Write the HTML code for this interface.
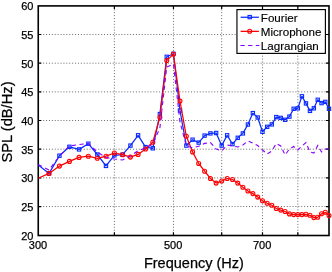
<!DOCTYPE html><html><head><meta charset="utf-8"><style>html,body{margin:0;padding:0;background:#fff;}body{width:332px;height:272px;overflow:hidden;}svg{display:block;}text{font-family:"Liberation Sans",sans-serif;fill:#000;stroke:#000;stroke-width:0.25px;}svg{will-change:transform;}</style></head><body>
<svg width="332" height="272" viewBox="0 0 332 272">
<defs><clipPath id="c"><rect x="38.25" y="5.85" width="290.75" height="229.35"/></clipPath></defs>
<path d="M38.25 206.53H329.00M38.25 177.86H329.00M38.25 149.19H329.00M38.25 120.52H329.00M38.25 91.86H329.00M38.25 63.19H329.00M38.25 34.52H329.00" stroke="#6a6a6a" stroke-width="1" stroke-dasharray="1 1.9" stroke-dashoffset="0.9" fill="none"/>
<path d="M114.39 5.90V235.50M173.44 5.90V235.50M221.69 5.90V235.50M262.49 5.90V235.50M297.83 5.90V235.50" stroke="#6a6a6a" stroke-width="1" stroke-dasharray="1 1.9" stroke-dashoffset="2.4" fill="none"/>
<path d="M38.25 206.53h3M329.00 206.53h-3M38.25 177.86h3M329.00 177.86h-3M38.25 149.19h3M329.00 149.19h-3M38.25 120.52h3M329.00 120.52h-3M38.25 91.86h3M329.00 91.86h-3M38.25 63.19h3M329.00 63.19h-3M38.25 34.52h3M329.00 34.52h-3M114.39 235.50v-3.2M114.39 5.90v3M173.44 235.50v-3.2M173.44 5.90v3M221.69 235.50v-3.2M221.69 5.90v3M262.49 235.50v-3.2M262.49 5.90v3M297.83 235.50v-3.2M297.83 5.90v3" stroke="#000" stroke-width="1.2" fill="none"/>
<rect x="38.25" y="5.9" width="290.75" height="229.60" fill="none" stroke="#000" stroke-width="1.6"/>
<polyline clip-path="url(#c)" points="38.25,164.90 49.05,173.40 59.43,155.70 69.42,146.80 79.05,149.40 88.33,143.70 97.31,154.50 105.98,165.90 114.39,155.30 122.53,154.60 130.43,145.60 138.10,135.30 145.56,147.10 152.81,148.30 159.87,114.10 166.74,56.80 173.44,53.80 179.98,110.50 186.35,145.60 192.58,139.70 198.67,142.60 204.61,135.60 210.43,133.40 216.12,133.00 221.69,145.60 227.15,135.30 232.50,144.10 237.74,137.80 242.88,133.40 247.92,124.50 252.86,113.10 257.72,117.50 262.49,131.80 267.17,126.80 271.78,124.40 276.30,117.10 280.75,117.90 285.12,119.80 289.43,116.60 293.66,108.80 297.83,108.30 301.93,96.30 305.97,103.40 309.95,110.90 313.87,108.30 317.74,99.80 321.54,103.10 325.30,101.90 329.00,108.80" fill="none" stroke="#0a2aff" stroke-width="1.25" stroke-linejoin="round"/>
<rect x="47.40" y="171.75" width="3.3" height="3.3" fill="none" stroke="#0a2aff" stroke-width="1.1"/>
<rect x="57.78" y="154.05" width="3.3" height="3.3" fill="none" stroke="#0a2aff" stroke-width="1.1"/>
<rect x="67.77" y="145.15" width="3.3" height="3.3" fill="none" stroke="#0a2aff" stroke-width="1.1"/>
<rect x="77.40" y="147.75" width="3.3" height="3.3" fill="none" stroke="#0a2aff" stroke-width="1.1"/>
<rect x="86.68" y="142.05" width="3.3" height="3.3" fill="none" stroke="#0a2aff" stroke-width="1.1"/>
<rect x="95.66" y="152.85" width="3.3" height="3.3" fill="none" stroke="#0a2aff" stroke-width="1.1"/>
<rect x="104.33" y="164.25" width="3.3" height="3.3" fill="none" stroke="#0a2aff" stroke-width="1.1"/>
<rect x="112.74" y="153.65" width="3.3" height="3.3" fill="none" stroke="#0a2aff" stroke-width="1.1"/>
<rect x="120.88" y="152.95" width="3.3" height="3.3" fill="none" stroke="#0a2aff" stroke-width="1.1"/>
<rect x="128.78" y="143.95" width="3.3" height="3.3" fill="none" stroke="#0a2aff" stroke-width="1.1"/>
<rect x="136.45" y="133.65" width="3.3" height="3.3" fill="none" stroke="#0a2aff" stroke-width="1.1"/>
<rect x="143.91" y="145.45" width="3.3" height="3.3" fill="none" stroke="#0a2aff" stroke-width="1.1"/>
<rect x="151.16" y="146.65" width="3.3" height="3.3" fill="none" stroke="#0a2aff" stroke-width="1.1"/>
<rect x="158.22" y="112.45" width="3.3" height="3.3" fill="none" stroke="#0a2aff" stroke-width="1.1"/>
<rect x="165.09" y="55.15" width="3.3" height="3.3" fill="none" stroke="#0a2aff" stroke-width="1.1"/>
<rect x="171.79" y="52.15" width="3.3" height="3.3" fill="none" stroke="#0a2aff" stroke-width="1.1"/>
<rect x="178.33" y="108.85" width="3.3" height="3.3" fill="none" stroke="#0a2aff" stroke-width="1.1"/>
<rect x="184.70" y="143.95" width="3.3" height="3.3" fill="none" stroke="#0a2aff" stroke-width="1.1"/>
<rect x="190.93" y="138.05" width="3.3" height="3.3" fill="none" stroke="#0a2aff" stroke-width="1.1"/>
<rect x="197.02" y="140.95" width="3.3" height="3.3" fill="none" stroke="#0a2aff" stroke-width="1.1"/>
<rect x="202.96" y="133.95" width="3.3" height="3.3" fill="none" stroke="#0a2aff" stroke-width="1.1"/>
<rect x="208.78" y="131.75" width="3.3" height="3.3" fill="none" stroke="#0a2aff" stroke-width="1.1"/>
<rect x="214.47" y="131.35" width="3.3" height="3.3" fill="none" stroke="#0a2aff" stroke-width="1.1"/>
<rect x="220.04" y="143.95" width="3.3" height="3.3" fill="none" stroke="#0a2aff" stroke-width="1.1"/>
<rect x="225.50" y="133.65" width="3.3" height="3.3" fill="none" stroke="#0a2aff" stroke-width="1.1"/>
<rect x="230.85" y="142.45" width="3.3" height="3.3" fill="none" stroke="#0a2aff" stroke-width="1.1"/>
<rect x="236.09" y="136.15" width="3.3" height="3.3" fill="none" stroke="#0a2aff" stroke-width="1.1"/>
<rect x="241.23" y="131.75" width="3.3" height="3.3" fill="none" stroke="#0a2aff" stroke-width="1.1"/>
<rect x="246.27" y="122.85" width="3.3" height="3.3" fill="none" stroke="#0a2aff" stroke-width="1.1"/>
<rect x="251.21" y="111.45" width="3.3" height="3.3" fill="none" stroke="#0a2aff" stroke-width="1.1"/>
<rect x="256.07" y="115.85" width="3.3" height="3.3" fill="none" stroke="#0a2aff" stroke-width="1.1"/>
<rect x="260.84" y="130.15" width="3.3" height="3.3" fill="none" stroke="#0a2aff" stroke-width="1.1"/>
<rect x="265.52" y="125.15" width="3.3" height="3.3" fill="none" stroke="#0a2aff" stroke-width="1.1"/>
<rect x="270.13" y="122.75" width="3.3" height="3.3" fill="none" stroke="#0a2aff" stroke-width="1.1"/>
<rect x="274.65" y="115.45" width="3.3" height="3.3" fill="none" stroke="#0a2aff" stroke-width="1.1"/>
<rect x="279.10" y="116.25" width="3.3" height="3.3" fill="none" stroke="#0a2aff" stroke-width="1.1"/>
<rect x="283.47" y="118.15" width="3.3" height="3.3" fill="none" stroke="#0a2aff" stroke-width="1.1"/>
<rect x="287.78" y="114.95" width="3.3" height="3.3" fill="none" stroke="#0a2aff" stroke-width="1.1"/>
<rect x="292.01" y="107.15" width="3.3" height="3.3" fill="none" stroke="#0a2aff" stroke-width="1.1"/>
<rect x="296.18" y="106.65" width="3.3" height="3.3" fill="none" stroke="#0a2aff" stroke-width="1.1"/>
<rect x="300.28" y="94.65" width="3.3" height="3.3" fill="none" stroke="#0a2aff" stroke-width="1.1"/>
<rect x="304.32" y="101.75" width="3.3" height="3.3" fill="none" stroke="#0a2aff" stroke-width="1.1"/>
<rect x="308.30" y="109.25" width="3.3" height="3.3" fill="none" stroke="#0a2aff" stroke-width="1.1"/>
<rect x="312.22" y="106.65" width="3.3" height="3.3" fill="none" stroke="#0a2aff" stroke-width="1.1"/>
<rect x="316.09" y="98.15" width="3.3" height="3.3" fill="none" stroke="#0a2aff" stroke-width="1.1"/>
<rect x="319.89" y="101.45" width="3.3" height="3.3" fill="none" stroke="#0a2aff" stroke-width="1.1"/>
<rect x="323.65" y="100.25" width="3.3" height="3.3" fill="none" stroke="#0a2aff" stroke-width="1.1"/>
<rect x="327.35" y="107.15" width="3.3" height="3.3" fill="none" stroke="#0a2aff" stroke-width="1.1"/>
<polyline clip-path="url(#c)" points="38.25,178.30 49.05,173.40 59.43,166.10 69.42,161.40 79.05,157.40 88.33,156.20 97.31,158.30 105.98,156.20 114.39,153.00 122.53,154.70 130.43,157.10 138.10,154.40 145.56,149.00 152.81,142.20 159.87,117.30 166.74,60.60 173.44,54.10 179.98,101.10 186.35,136.30 192.58,151.90 198.67,163.50 204.61,171.20 210.43,178.50 216.12,183.10 221.69,181.00 227.15,178.50 232.50,179.50 237.74,183.10 242.88,187.20 247.92,191.00 252.86,193.60 257.72,197.10 262.49,200.70 267.17,203.20 271.78,205.20 276.30,208.50 280.75,210.10 285.12,211.50 289.43,213.90 293.66,214.60 297.83,214.60 301.93,214.60 305.97,214.30 309.95,215.30 313.87,217.60 317.74,217.30 321.54,213.80 325.30,212.30 329.00,215.60" fill="none" stroke="#ff0000" stroke-width="1.25" stroke-linejoin="round"/>
<circle cx="49.05" cy="173.40" r="2.0" fill="none" stroke="#ff0000" stroke-width="1.1"/>
<circle cx="59.43" cy="166.10" r="2.0" fill="none" stroke="#ff0000" stroke-width="1.1"/>
<circle cx="69.42" cy="161.40" r="2.0" fill="none" stroke="#ff0000" stroke-width="1.1"/>
<circle cx="79.05" cy="157.40" r="2.0" fill="none" stroke="#ff0000" stroke-width="1.1"/>
<circle cx="88.33" cy="156.20" r="2.0" fill="none" stroke="#ff0000" stroke-width="1.1"/>
<circle cx="97.31" cy="158.30" r="2.0" fill="none" stroke="#ff0000" stroke-width="1.1"/>
<circle cx="105.98" cy="156.20" r="2.0" fill="none" stroke="#ff0000" stroke-width="1.1"/>
<circle cx="114.39" cy="153.00" r="2.0" fill="none" stroke="#ff0000" stroke-width="1.1"/>
<circle cx="122.53" cy="154.70" r="2.0" fill="none" stroke="#ff0000" stroke-width="1.1"/>
<circle cx="130.43" cy="157.10" r="2.0" fill="none" stroke="#ff0000" stroke-width="1.1"/>
<circle cx="138.10" cy="154.40" r="2.0" fill="none" stroke="#ff0000" stroke-width="1.1"/>
<circle cx="145.56" cy="149.00" r="2.0" fill="none" stroke="#ff0000" stroke-width="1.1"/>
<circle cx="152.81" cy="142.20" r="2.0" fill="none" stroke="#ff0000" stroke-width="1.1"/>
<circle cx="159.87" cy="117.30" r="2.0" fill="none" stroke="#ff0000" stroke-width="1.1"/>
<circle cx="166.74" cy="60.60" r="2.0" fill="none" stroke="#ff0000" stroke-width="1.1"/>
<circle cx="173.44" cy="54.10" r="2.0" fill="none" stroke="#ff0000" stroke-width="1.1"/>
<circle cx="179.98" cy="101.10" r="2.0" fill="none" stroke="#ff0000" stroke-width="1.1"/>
<circle cx="186.35" cy="136.30" r="2.0" fill="none" stroke="#ff0000" stroke-width="1.1"/>
<circle cx="192.58" cy="151.90" r="2.0" fill="none" stroke="#ff0000" stroke-width="1.1"/>
<circle cx="198.67" cy="163.50" r="2.0" fill="none" stroke="#ff0000" stroke-width="1.1"/>
<circle cx="204.61" cy="171.20" r="2.0" fill="none" stroke="#ff0000" stroke-width="1.1"/>
<circle cx="210.43" cy="178.50" r="2.0" fill="none" stroke="#ff0000" stroke-width="1.1"/>
<circle cx="216.12" cy="183.10" r="2.0" fill="none" stroke="#ff0000" stroke-width="1.1"/>
<circle cx="221.69" cy="181.00" r="2.0" fill="none" stroke="#ff0000" stroke-width="1.1"/>
<circle cx="227.15" cy="178.50" r="2.0" fill="none" stroke="#ff0000" stroke-width="1.1"/>
<circle cx="232.50" cy="179.50" r="2.0" fill="none" stroke="#ff0000" stroke-width="1.1"/>
<circle cx="237.74" cy="183.10" r="2.0" fill="none" stroke="#ff0000" stroke-width="1.1"/>
<circle cx="242.88" cy="187.20" r="2.0" fill="none" stroke="#ff0000" stroke-width="1.1"/>
<circle cx="247.92" cy="191.00" r="2.0" fill="none" stroke="#ff0000" stroke-width="1.1"/>
<circle cx="252.86" cy="193.60" r="2.0" fill="none" stroke="#ff0000" stroke-width="1.1"/>
<circle cx="257.72" cy="197.10" r="2.0" fill="none" stroke="#ff0000" stroke-width="1.1"/>
<circle cx="262.49" cy="200.70" r="2.0" fill="none" stroke="#ff0000" stroke-width="1.1"/>
<circle cx="267.17" cy="203.20" r="2.0" fill="none" stroke="#ff0000" stroke-width="1.1"/>
<circle cx="271.78" cy="205.20" r="2.0" fill="none" stroke="#ff0000" stroke-width="1.1"/>
<circle cx="276.30" cy="208.50" r="2.0" fill="none" stroke="#ff0000" stroke-width="1.1"/>
<circle cx="280.75" cy="210.10" r="2.0" fill="none" stroke="#ff0000" stroke-width="1.1"/>
<circle cx="285.12" cy="211.50" r="2.0" fill="none" stroke="#ff0000" stroke-width="1.1"/>
<circle cx="289.43" cy="213.90" r="2.0" fill="none" stroke="#ff0000" stroke-width="1.1"/>
<circle cx="293.66" cy="214.60" r="2.0" fill="none" stroke="#ff0000" stroke-width="1.1"/>
<circle cx="297.83" cy="214.60" r="2.0" fill="none" stroke="#ff0000" stroke-width="1.1"/>
<circle cx="301.93" cy="214.60" r="2.0" fill="none" stroke="#ff0000" stroke-width="1.1"/>
<circle cx="305.97" cy="214.30" r="2.0" fill="none" stroke="#ff0000" stroke-width="1.1"/>
<circle cx="309.95" cy="215.30" r="2.0" fill="none" stroke="#ff0000" stroke-width="1.1"/>
<circle cx="313.87" cy="217.60" r="2.0" fill="none" stroke="#ff0000" stroke-width="1.1"/>
<circle cx="317.74" cy="217.30" r="2.0" fill="none" stroke="#ff0000" stroke-width="1.1"/>
<circle cx="321.54" cy="213.80" r="2.0" fill="none" stroke="#ff0000" stroke-width="1.1"/>
<circle cx="325.30" cy="212.30" r="2.0" fill="none" stroke="#ff0000" stroke-width="1.1"/>
<circle cx="329.00" cy="215.60" r="2.0" fill="none" stroke="#ff0000" stroke-width="1.1"/>
<polyline clip-path="url(#c)" points="38.25,164.40 49.05,170.00 59.43,156.00 69.42,146.00 79.05,144.60 88.33,143.40 97.31,152.00 105.98,157.50 114.39,159.00 122.53,160.00 130.43,155.90 138.10,150.70 145.56,147.80 152.81,144.00 159.87,128.00 166.74,67.00 173.44,64.00 179.98,122.00 186.35,146.00 192.58,147.80 198.67,146.30 204.61,143.40 210.43,142.60 216.12,149.00 221.69,151.00 227.15,145.10 232.50,145.90 237.74,147.00 242.88,145.00 247.92,141.00 252.86,143.00 257.72,145.50 262.49,150.00 267.17,154.00 271.78,151.00 276.30,143.50 280.75,146.00 285.12,155.00 289.43,149.00 293.66,146.50 297.83,150.00 301.93,146.00 305.97,142.50 309.95,152.00 313.87,153.00 317.74,145.50 321.54,152.00 325.30,149.00 329.00,149.00" fill="none" stroke="#8800ff" stroke-width="1.1" stroke-dasharray="4.3 3.4"/>
<text x="33.4" y="239.70" font-size="11" text-anchor="end">20</text>
<text x="33.4" y="211.03" font-size="11" text-anchor="end">25</text>
<text x="33.4" y="182.36" font-size="11" text-anchor="end">30</text>
<text x="33.4" y="153.69" font-size="11" text-anchor="end">35</text>
<text x="33.4" y="125.02" font-size="11" text-anchor="end">40</text>
<text x="33.4" y="96.36" font-size="11" text-anchor="end">45</text>
<text x="33.4" y="67.69" font-size="11" text-anchor="end">50</text>
<text x="33.4" y="39.02" font-size="11" text-anchor="end">55</text>
<text x="33.4" y="10.35" font-size="11" text-anchor="end">60</text>
<text x="37.95" y="248.5" font-size="11" text-anchor="middle">300</text>
<text x="173.14" y="248.5" font-size="11" text-anchor="middle">500</text>
<text x="262.19" y="248.5" font-size="11" text-anchor="middle">700</text>
<text x="193.9" y="268.4" font-size="14.5" text-anchor="middle">Frequency (Hz)</text>
<text transform="translate(12.4,122.0) rotate(-90)" font-size="14.7" text-anchor="middle">SPL (dB/Hz)</text>
<rect x="236.95" y="9.6" width="88.45" height="43.8" fill="#fff" stroke="#000" stroke-width="1.15"/>
<path d="M240.6 17.25H258.9" stroke="#0a2aff" stroke-width="1.25"/>
<rect x="248.05" y="15.45" width="3.3" height="3.3" fill="none" stroke="#0a2aff" stroke-width="1.1"/>
<path d="M240.6 31.35H258.9" stroke="#ff0000" stroke-width="1.25"/>
<circle cx="249.7" cy="31.2" r="2.0" fill="none" stroke="#ff0000" stroke-width="1.1"/>
<path d="M240.4 45.5H259.3" stroke="#8800ff" stroke-width="1.1" stroke-dasharray="4.3 3.4"/>
<text x="260.8" y="21.9" font-size="11.6" style="stroke-width:0.15px">Fourier</text>
<text x="260.8" y="35.9" font-size="11.6" style="stroke-width:0.15px">Microphone</text>
<text x="260.8" y="49.9" font-size="11.6" style="stroke-width:0.15px">Lagrangian</text>
</svg></body></html>
